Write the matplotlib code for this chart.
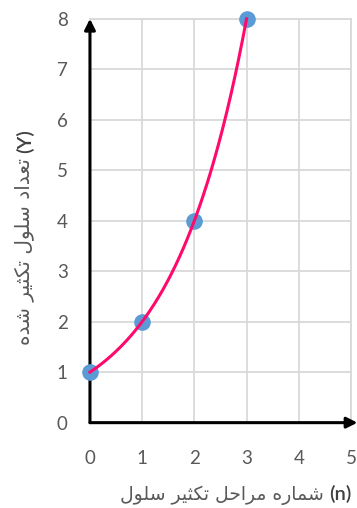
import matplotlib
matplotlib.use("Agg")
from matplotlib import pyplot as plt
import numpy as np

# data
steps = [0, 1, 2, 3]
cells = [1, 2, 4, 8]
x_ticks = [0, 1, 2, 3, 4, 5]
y_ticks = [0, 1, 2, 3, 4, 5, 6, 7, 8]
x_title = "شماره مراحل تکثیر سلول"
y_title = "تعداد سلول تکثیر شده"

# presentation forms: (isolated, final, initial, medial)
FORMS = {
    "ا": ("\uFE8D", "\uFE8E", None, None),
    "ت": ("\uFE95", "\uFE96", "\uFE97", "\uFE98"),
    "ث": ("\uFE99", "\uFE9A", "\uFE9B", "\uFE9C"),
    "ح": ("\uFEA1", "\uFEA2", "\uFEA3", "\uFEA4"),
    "د": ("\uFEA9", "\uFEAA", None, None),
    "ر": ("\uFEAD", "\uFEAE", None, None),
    "س": ("\uFEB1", "\uFEB2", "\uFEB3", "\uFEB4"),
    "ش": ("\uFEB5", "\uFEB6", "\uFEB7", "\uFEB8"),
    "ع": ("\uFEC9", "\uFECA", "\uFECB", "\uFECC"),
    "ل": ("\uFEDD", "\uFEDE", "\uFEDF", "\uFEE0"),
    "م": ("\uFEE1", "\uFEE2", "\uFEE3", "\uFEE4"),
    "ه": ("\uFEE9", "\uFEEA", "\uFEEB", "\uFEEC"),
    "و": ("\uFEED", "\uFEEE", None, None),
    "ک": ("\uFB8E", "\uFB8F", "\uFB90", "\uFB91"),
    "ی": ("\uFBFC", "\uFBFD", "\uFBFE", "\uFBFF"),
}


def joins_next(ch):
    return ch in FORMS and FORMS[ch][2] is not None


def shape(text):
    # crude persian shaping, returns visual (left to right) order
    out = []
    for i, ch in enumerate(text):
        if ch not in FORMS:
            out.append(ch)
            continue
        prev = text[i - 1] if i > 0 else " "
        nxt = text[i + 1] if i + 1 < len(text) else " "
        from_prev = joins_next(prev)
        to_next = joins_next(ch) and nxt in FORMS
        iso, fin, ini, med = FORMS[ch]
        if from_prev and to_next:
            out.append(med)
        elif from_prev:
            out.append(fin)
        elif to_next:
            out.append(ini)
        else:
            out.append(iso)
    return "".join(reversed(out))


fig = plt.figure(figsize=(3.57, 5.08), dpi=100)
ax = fig.add_axes([0.252, 0.168, 0.731, 0.795])

grid_c = "#D9D9D9"
ax.set_xlim(0, 5)
ax.set_ylim(0, 8)
ax.set_xticks(x_ticks)
ax.set_yticks(y_ticks)
ax.grid(True, color=grid_c, linewidth=1.3)
ax.set_axisbelow(True)
for s in ["left", "bottom"]:
    ax.spines[s].set_visible(False)
for s in ["top", "right"]:
    ax.spines[s].set_color(grid_c)
    ax.spines[s].set_linewidth(1.3)
ax.tick_params(length=0, labelsize=13.5, labelcolor="#595959")
ax.tick_params(axis="x", pad=20)
ax.tick_params(axis="y", pad=16)
for lab in ax.get_xticklabels() + ax.get_yticklabels():
    lab.set_fontfamily("Lato")

# axes arrows
arrow = dict(arrowstyle="-|>", color="black", lw=2.2, mutation_scale=16,
             shrinkA=0, shrinkB=0)
ax.annotate("", xy=(0, 1.0), xytext=(0, 0), xycoords="axes fraction",
            arrowprops=arrow, annotation_clip=False)
ax.annotate("", xy=(1.025, 0), xytext=(0, 0), xycoords="axes fraction",
            arrowprops=arrow, annotation_clip=False)

# exponential trendline through the points
b, a = np.polyfit(steps, np.log(cells), 1)
xs = np.linspace(steps[0], steps[-1], 200)
ax.scatter(steps, cells, s=120, color="#5B9BD5", zorder=3, clip_on=False)
ax.plot(xs, np.exp(a) * np.exp(b * xs), color="#FF0A6C", lw=2.2, zorder=4,
        clip_on=False)

# axis titles: persian part plus latin symbol placed after it
fig.canvas.draw()
renderer = fig.canvas.get_renderer()
W, H = fig.bbox.width, fig.bbox.height

xt = fig.text(120 / W, 1 - 500 / H, shape(x_title), ha="left",
              va="baseline", fontsize=13.5, color="#595959",
              family="DejaVu Sans")
ext = xt.get_window_extent(renderer)
fig.text((ext.x1 + 5) / W, 1 - 500 / H, "(n)", ha="left", va="baseline",
         fontsize=14.5, color="#404040", family="Lato", weight="semibold")

yt = fig.text(34 / W, 1 - 345 / H, shape(y_title), ha="left",
              va="bottom", rotation=90, rotation_mode="anchor",
              fontsize=14.5, color="#595959", family="DejaVu Sans")
ext = yt.get_window_extent(renderer)
fig.text(34 / W, (ext.y1 + 5) / H, "(Y)", ha="left", va="bottom",
         rotation=90, rotation_mode="anchor", fontsize=14.5, color="#404040",
         family="Lato", weight="semibold")

fig.savefig("out.png", dpi=100)
